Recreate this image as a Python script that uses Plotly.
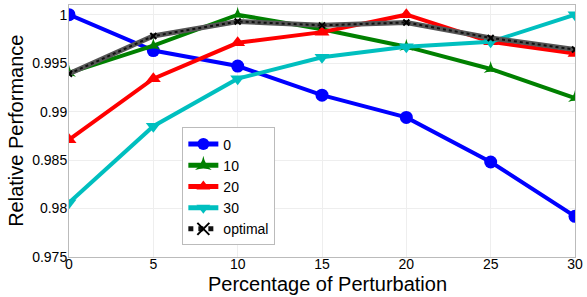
import plotly.graph_objects as go

x = [0, 5, 10, 15, 20, 25, 30]
s0 = [1.0, 0.9963, 0.9947, 0.9917, 0.9894, 0.9848, 0.9792]
s10 = [0.9940, 0.9968, 1.0, 0.9985, 0.9967, 0.9944, 0.9914]
s20 = [0.9871, 0.9934, 0.9971, 0.9982, 1.0, 0.9972, 0.9960]
s30 = [0.9806, 0.9885, 0.9934, 0.9956, 0.9967, 0.9972, 1.0]
opt = [0.9939, 0.9978, 0.9993, 0.9989, 0.9992, 0.9976, 0.9964]
yticks = [0.975, 0.98, 0.985, 0.99, 0.995, 1]
yticklabels = ["0.975", "0.98", "0.985", "0.99", "0.995", "1"]
xticks = [0, 5, 10, 15, 20, 25, 30]

fig = go.Figure()
fig.add_trace(go.Scatter(x=x, y=s0, name="0", mode="lines+markers",
                         line=dict(color="#0000ff", width=4),
                         marker=dict(symbol="circle", size=13, color="#0000ff")))
fig.add_trace(go.Scatter(x=x, y=s10, name="10", mode="lines+markers",
                         line=dict(color="#008000", width=4),
                         marker=dict(symbol="star-triangle-up", size=10, color="#008000")))
fig.add_trace(go.Scatter(x=x, y=s20, name="20", mode="lines+markers",
                         line=dict(color="#ff0000", width=4),
                         marker=dict(symbol="triangle-up", size=13, color="#ff0000")))
fig.add_trace(go.Scatter(x=x, y=s30, name="30", mode="lines+markers",
                         line=dict(color="#00bfbf", width=4),
                         marker=dict(symbol="triangle-down", size=13, color="#00bfbf")))
fig.add_trace(go.Scatter(x=x, y=opt, name="optimal", mode="lines", legendgroup="opt",
                         showlegend=False,
                         line=dict(color="#555555", width=5)))
fig.add_trace(go.Scatter(x=x, y=opt, name="optimal", mode="lines+markers", legendgroup="opt",
                         line=dict(color="#111111", width=2, dash="dot"),
                         marker=dict(symbol="x-thin", size=6, color="#000000",
                                     line=dict(color="#000000", width=2))))

fig.update_layout(
    width=587, height=297,
    margin=dict(l=69, r=10, t=4, b=40),
    paper_bgcolor="white", plot_bgcolor="white",
    font=dict(family="Liberation Sans, Arial, sans-serif", color="black", size=14),
    showlegend=True,
    legend=dict(x=0.224, y=0.514, xanchor="left", yanchor="top",
                bgcolor="white", bordercolor="#bbbbbb", borderwidth=1,
                font=dict(size=14), tracegroupgap=0, itemwidth=30,
                itemsizing="constant"),
    annotations=[
        dict(text="Percentage of Perturbation", xref="paper", yref="paper",
             x=0.51, y=-0.055, xanchor="center", yanchor="top", showarrow=False,
             font=dict(size=20)),
        dict(text="Relative Performance", xref="paper", yref="paper",
             x=-0.105, y=0.5, xanchor="center", yanchor="middle", showarrow=False,
             textangle=-90, font=dict(size=20)),
    ],
)
fig.update_xaxes(range=[0, 30], tickvals=xticks, showgrid=True, gridcolor="#eeeeee",
                 showline=True, linecolor="#bbbbbb", mirror=True, zeroline=False,
                 ticks="", tickfont=dict(size=14), ticklabelstandoff=-6,
                 ticklabeloverflow="allow")
fig.update_yaxes(range=[0.975, 1.001], tickvals=yticks, ticktext=yticklabels,
                 showgrid=True, gridcolor="#eeeeee",
                 showline=True, linecolor="#bbbbbb", mirror=True, zeroline=False,
                 ticks="", tickfont=dict(size=14), ticklabelstandoff=-2)

fig.write_html("out.html", config={"displayModeBar": False},
               post_script="document.body.style.margin='0';")
